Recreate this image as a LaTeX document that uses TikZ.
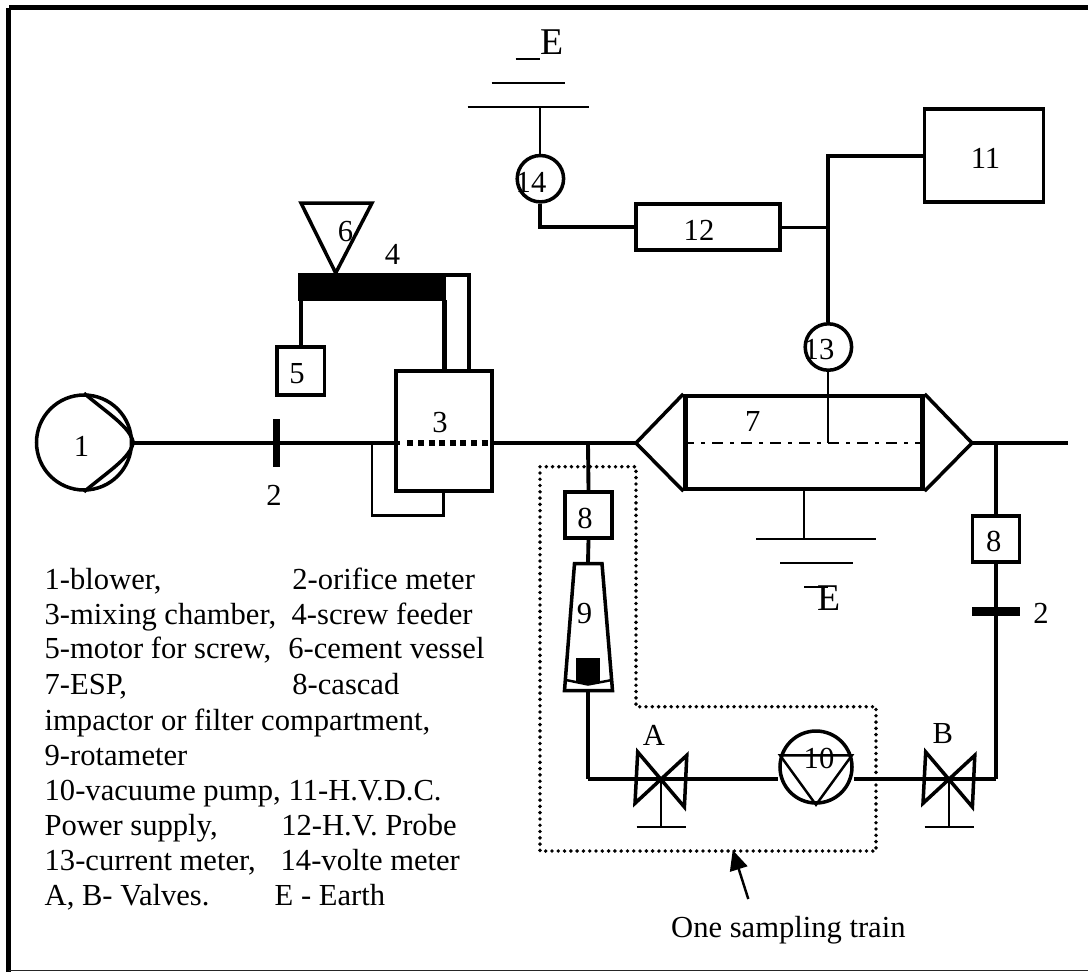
\documentclass[tikz,border=0pt]{standalone}
\usepackage{fontspec}
\setmainfont{Liberation Serif}
\usetikzlibrary{arrows.meta, positioning, calc}
\tikzset{
  pipe/.style={line width=1.1pt},
  wire/.style={line width=0.85pt},
  hair/.style={line width=0.55pt},
  plate/.style={line width=0.6pt},
  vessel/.style={line width=1.0pt},
  box/.style={rectangle, draw, line width=1.1pt, inner sep=0pt},
  heavybox/.style={rectangle, draw, line width=1.2pt, inner sep=0pt},
  solidbar/.style={rectangle, fill=black, inner sep=0pt},
  meter/.style={circle, draw, line width=1.0pt, inner sep=0pt},
  lbl/.style={inner sep=0pt},
  earthlbl/.style={inner sep=0pt, font=\fontsize{10.75}{12}\selectfont},
  legend/.style={inner sep=0pt, anchor=base west},
}

\begin{document}
\begin{tikzpicture}[font=\fontsize{8.7}{10.4}\selectfont]
  \useasboundingbox (0,0) rectangle (10.88,-9.72);

  % Frame
  \coordinate (FT) at (10.88,-0.077);
  \coordinate (FC) at (0.085,-0.077);
  \coordinate (FB) at (0.085,-9.72);
  \coordinate (FE) at (10.88,-9.707);
  \draw[line width=1.55pt] (FT) -- (FC);
  \draw[line width=1.4pt] (FC) -- (FB);
  \draw[line width=0.4pt, black!85] (FB |- FE) -- (FE);

  % Main duct junctions
  \coordinate (In3) at (4.00,-4.43);
  \coordinate (Out3) at (4.93,-4.43);
  \coordinate (ConeL) at (6.36,-4.43);
  \coordinate (ConeR) at (9.72,-4.43);
  \coordinate (DuctEnd) at (10.68,-4.43);
  \coordinate (TapL) at (5.88,-4.43);
  \coordinate (TapR) at (9.96,-4.43);
  \coordinate (CornerL) at (5.88,-7.79);
  \coordinate (CornerR) at (9.96,-7.79);

  % Blower, orifice, mixing chamber
  \node[meter, minimum size=0.95cm] (N1) at (0.84,-4.425) {};
  \draw[vessel] (N1.north) .. controls (1.10,-4.15) and (1.30,-4.27) .. (N1.east);
  \draw[vessel] (N1.south) .. controls (1.10,-4.70) and (1.30,-4.58) .. (N1.east);
  \node[solidbar, minimum width=0.076cm, minimum height=0.48cm] (N2) at (2.765,-4.43) {};
  \node[heavybox, minimum width=0.96cm, minimum height=1.20cm] (N3) at (4.438,-4.31) {};
  \draw[pipe] (N1.east |- In3) -- (In3);
  \draw[line width=1.55pt, dash pattern=on 1.68pt off 1.34pt] (4.074,-4.43) -- (Out3);
  \draw[wire] (3.72,-4.43) -- (3.72,-5.15) -| (4.435,-4.91);

  % Screw feeder, motor, cement vessel
  \node[solidbar, minimum width=1.48cm, minimum height=0.277cm] (N4) at (3.72,-2.869) {};
  \node[box, line width=0.95pt, minimum width=0.473cm, minimum height=0.48cm] (N5) at (3.006,-3.71) {};
  \draw[pipe] (N5.north) -- (N5.north |- N4.south);
  \draw[line width=1.15pt] (4.445,-3.0) -- (4.445,-3.70);
  \draw[line width=1.15pt] (4.45,-2.75) -- (4.69,-2.75) -- (4.69,-3.70);
  \coordinate (Tip6) at (3.357,-2.73);
  \draw[vessel] (3.01,-2.03) -- (3.72,-2.03) -- (Tip6) -- cycle;

  % ESP
  \node[heavybox, minimum width=2.37cm, minimum height=0.93cm] (N7) at (8.04,-4.425) {};
  \draw[vessel] (N7.north west) -- (ConeL) -- (N7.south west);
  \draw[vessel] (N7.north east) -- (ConeR) -- (N7.south east);
  \draw[line width=0.75pt, dash pattern=on 3.1pt off 2.05pt on 1.05pt off 2.05pt] (N7.west |- ConeL) -- (N7.east |- ConeL);
  \draw[pipe] (Out3) -- (ConeL);
  \draw[pipe] (ConeR) -- (DuctEnd);

  % Earth under the ESP
  \coordinate (EA) at (8.04,-5.39);
  \draw[hair] (N7.south) -- (EA);
  \draw[plate] (7.56,-5.39) -- (8.76,-5.39);
  \draw[plate] (7.80,-5.63) -- (8.53,-5.63);
  \draw[plate] (8.04,-5.867) -- (8.28,-5.867);

  % Power supply, probe, meters
  \node[box, minimum width=1.19cm, minimum height=0.93cm] (N11) at (9.84,-1.556) {};
  \node[box, minimum width=1.44cm, minimum height=0.465cm] (N12) at (7.08,-2.27) {};
  \node[meter, minimum size=0.464cm] (N13) at (8.284,-3.47) {};
  \node[meter, minimum size=0.464cm] (N14) at (5.404,-1.787) {};
  \draw[pipe] (N13.north) |- (N11.west);
  \draw[wire] (N12.east) -- (N12.east -| N13);
  \draw[hair] (N13.south) -- (N13.south |- ConeL);
  \draw[pipe] (N14.south) |- (N12.west);

  % Earth above the volt meter
  \coordinate (EB) at (5.404,-1.073);
  \draw[hair] (N14.north) -- (EB);
  \draw[plate] (4.677,-1.073) -- (5.888,-1.073);
  \draw[plate] (4.916,-0.827) -- (5.648,-0.827);
  \draw[plate] (5.156,-0.593) -- (5.404,-0.593);

  % Sampling train
  \node[box, minimum width=0.47cm, minimum height=0.46cm] (S8) at (5.885,-5.15) {};
  \coordinate (Top9) at (5.88,-5.623);
  \coordinate (Bot9) at (5.88,-6.905);
  \draw[vessel] (5.745,-5.635) -- (6.02,-5.635) -- (6.125,-6.905) -- (5.645,-6.905) -- cycle;
  \node[solidbar, minimum width=0.24cm, minimum height=0.25cm] (Float) at (5.88,-6.705) {};
  \draw[wire, line width=0.7pt] (5.66,-6.80) -- (5.88,-6.845) -- (6.12,-6.80);
  \draw[pipe] (TapL) -- (S8.north);
  \draw[pipe] (S8.south) -- (Top9);
  \draw[pipe] (Bot9) -- (CornerL);
  \draw[dash pattern=on 0pt off 1.79pt, line width=1.1pt, line cap=round]
    (5.40,-4.667) -- (6.36,-4.667) -- (6.36,-7.067) -- (8.76,-7.067) -- (8.76,-8.51) -- (5.40,-8.51) -- cycle;

  % Valves and pump
  \coordinate (VA) at (6.61,-7.79);
  \coordinate (VB) at (9.49,-7.79);
  \node[meter, minimum size=0.72cm] (N10) at (8.16,-7.67) {};
  \draw[pipe] (CornerL) -- (VA) -- (N10.west |- VA);
  \draw[pipe] (N10.east |- VB) -- (VB) -- (CornerR);
  \draw[wire, line width=0.7pt] (N10.162) -- (N10.18) -- (N10.south) -- cycle;
  \foreach \v in {VA,VB} {
    \draw[vessel] ($(\v)+(-0.233,0.27)$) -- ($(\v)+(0.234,-0.28)$) -- ($(\v)+(0.258,0.237)$) -- ($(\v)+(-0.26,-0.243)$) -- cycle;
    \draw[hair] (\v) -- ++(0,-0.477);
    \draw[plate] ($(\v)+(-0.245,-0.477)$) -- ($(\v)+(0.245,-0.477)$);
  }

  % Return leg
  \node[box, minimum width=0.47cm, minimum height=0.46cm] (R8) at (9.96,-5.39) {};
  \node[solidbar, minimum width=0.48cm, minimum height=0.09cm] (R2) at (9.96,-6.11) {};
  \draw[line width=1pt] (TapR) -- (R8.north);
  \draw[line width=1pt] (R8.south) -- (CornerR);

  % Arrow to the sampling train
  \coordinate (Tail) at (7.483,-8.99);
  \coordinate (Head) at (7.327,-8.50);
  \draw[-{Triangle[length=0.2cm,width=0.18cm]}, line width=0.7pt] (Tail) -- (Head);
  \node[legend] (Cap) at (6.705,-9.377) {One sampling train};

  % Item numbers
  \node[lbl] (L1) at (0.816,-4.46) {1};
  \node[lbl] (L2) at (2.74,-4.95) {2};
  \node[lbl] (L3) at (4.40,-4.227) {3};
  \node[lbl] (L4) at (3.926,-2.54) {4};
  \node[lbl] (L5) at (2.97,-3.74) {5};
  \node[lbl] (L6) at (3.454,-2.317) {6};
  \node[lbl] (L7) at (7.528,-4.217) {7};
  \node[lbl] (L8a) at (5.85,-5.18) {8};
  \node[lbl] (L8b) at (9.937,-5.417) {8};
  \node[lbl] (L2b) at (10.41,-6.13) {2};
  \node[lbl] (L9) at (5.844,-6.14) {9};
  \node[lbl] (L10) at (8.19,-7.58) {10};
  \node[lbl] (L11) at (9.855,-1.583) {11};
  \node[lbl] (L12) at (6.99,-2.30) {12};
  \node[lbl] (L13) at (8.19,-3.50) {13};
  \node[lbl] (L14) at (5.31,-1.82) {14};
  \node[lbl] (LA) at (6.538,-7.35) {A};
  \node[lbl] (LB) at (9.428,-7.34) {B};
  \node[earthlbl] (E1) at (5.524,-0.426) {E};
  \node[earthlbl] (E2) at (8.29,-5.98) {E};

  % Legend
  \node[legend] (A1) at (0.44,-5.893) {1-blower,};
  \node[legend] (B1) at (2.917,-5.893) {2-orifice meter};
  \node[legend] (A2) at (0.44,-6.24) {3-mixing chamber,};
  \node[legend] (B2) at (2.91,-6.24) {4-screw feeder};
  \node[legend] (A3) at (0.44,-6.587) {5-motor for screw,};
  \node[legend] (B3) at (2.877,-6.587) {6-cement vessel};
  \node[legend] (A4) at (0.44,-6.94) {7-ESP,};
  \node[legend] (B4) at (2.917,-6.94) {8-cascad};
  \node[legend] (A5) at (0.44,-7.30) {impactor or filter compartment,};
  \node[legend] (A6) at (0.44,-7.65) {9-rotameter};
  \node[legend] (A7) at (0.44,-8.00) {10-vacuume pump,};
  \node[legend] (B7) at (2.88,-8.00) {11-H.V.D.C.};
  \node[legend] (A8) at (0.44,-8.35) {Power supply,};
  \node[legend] (B8) at (2.807,-8.35) {12-H.V. Probe};
  \node[legend] (A9) at (0.44,-8.70) {13-current meter,};
  \node[legend] (B9) at (2.80,-8.70) {14-volte meter};
  \node[legend] (A10) at (0.44,-9.057) {A, B- Valves.};
  \node[legend] (B10) at (2.74,-9.057) {E - Earth};
\end{tikzpicture}
\end{document}
